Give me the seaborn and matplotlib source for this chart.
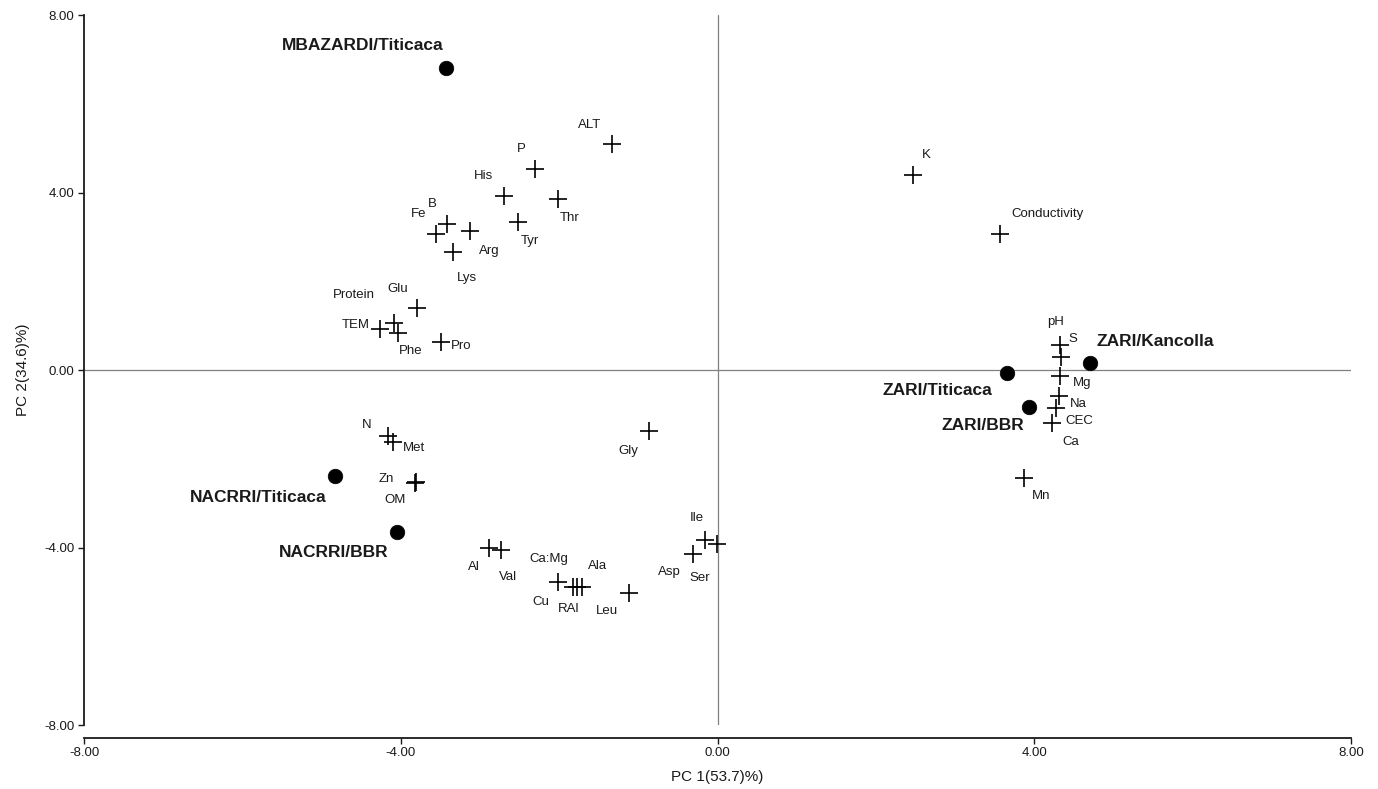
import matplotlib
matplotlib.use("Agg")
import matplotlib.pyplot as plt
import seaborn as sns
import pandas as pd

# ---- data ----
var_names = ["ALT", "P", "His", "Thr", "Tyr", "B", "Fe", "Arg", "Lys", "Glu",
             "Protein", "TEM", "Phe", "Pro", "N", "Met", "Zn", "OM", "Al", "Val",
             "Cu", "Ca:Mg", "RAl", "Ala", "Leu", "Asp", "Ile", "Ser", "Gly", "K",
             "Conductivity", "pH", "S", "Mg", "Na", "CEC", "Ca", "Mn"]
var_pc1 = [-1.33, -2.30, -2.70, -2.01, -2.52, -3.41, -3.55, -3.13, -3.34, -3.79,
           -4.09, -4.26, -4.03, -3.49, -4.16, -4.10, -3.82, -3.81, -2.89, -2.74,
           -2.01, -1.83, -1.77, -1.71, -1.12, -0.31, -0.16, -0.01, -0.87, 2.47,
           3.57, 4.32, 4.34, 4.33, 4.31, 4.28, 4.22, 3.87]
var_pc2 = [5.09, 4.53, 3.92, 3.86, 3.34, 3.28, 3.06, 3.13, 2.66, 1.39,
           1.05, 0.92, 0.83, 0.63, -1.49, -1.62, -2.54, -2.53, -4.02, -4.06,
           -4.77, -4.90, -4.90, -4.90, -5.03, -4.15, -3.82, -3.93, -1.37, 4.39,
           3.06, 0.56, 0.29, -0.14, -0.58, -0.86, -1.19, -2.44]

site_names = ["MBAZARDI/Titicaca", "NACRRI/Titicaca", "NACRRI/BBR",
              "ZARI/Titicaca", "ZARI/Kancolla", "ZARI/BBR"]
site_pc1 = [-3.43, -4.83, -4.05, 3.65, 4.70, 3.93]
site_pc2 = [6.81, -2.39, -3.65, -0.07, 0.16, -0.84]

x_ticks = [-8, -4, 0, 4, 8]
y_ticks = [-8, -4, 0, 4, 8]
x_label = "PC 1(53.7)%)"
y_label = "PC 2(34.6)%)"

# label offsets in pixels (dx right, dy down) -- layout only
var_offsets = [(-23, -19), (-14, -20), (-20, -20), (11, 19), (12, 19), (-15, -20),
               (-18, -20), (20, 20), (14, 26), (-20, -19), (-40, -28), (-24, -4),
               (12, 18), (20, 4), (-21, -11), (21, 6), (-29, -4), (-21, 18),
               (-15, 19), (7, 27), (-18, 20), (-24, -28), (-9, 22), (15, -21),
               (-22, 18), (-24, 18), (-8, -22), (-17, 34), (-20, 20), (13, -20),
               (47, -20), (-4, -23), (12, -18), (22, 7), (20, 8), (23, 13),
               (19, 19), (17, 18)]
site_offsets = [(-83, -22), (-77, 21), (-63, 21), (-69, 17), (66, -21), (-46, 18)]

vars_df = pd.DataFrame({"PC1": var_pc1, "PC2": var_pc2, "name": var_names})
sites_df = pd.DataFrame({"PC1": site_pc1, "PC2": site_pc2, "name": site_names})

sns.set_theme(style="ticks")
plt.rcParams["font.family"] = ["Liberation Sans Narrow", "Liberation Sans", "DejaVu Sans"]

fig = plt.figure(figsize=(13.78, 7.89), dpi=100)
ax = fig.add_axes([84 / 1378, 1 - 725 / 789, (1351 - 84) / 1378, (725 - 15) / 789])

ax.axhline(0, color="#808080", lw=0.9, zorder=1)
ax.axvline(0, color="#808080", lw=0.9, zorder=1)

sns.scatterplot(data=vars_df, x="PC1", y="PC2", marker="+", s=150,
                color="black", linewidth=1.2, ax=ax, zorder=3)
sns.scatterplot(data=sites_df, x="PC1", y="PC2", marker="o", s=110,
                color="black", edgecolor="black", linewidth=0.5, ax=ax, zorder=4)

px = 72 / 100  # pixels -> points
for name, x, y, (dx, dy) in zip(var_names, var_pc1, var_pc2, var_offsets):
    ax.annotate(name, (x, y), xytext=(dx * px, -dy * px), textcoords="offset points",
                ha="center", va="center", fontsize=9.5, color="#1a1a1a")
for name, x, y, (dx, dy) in zip(site_names, site_pc1, site_pc2, site_offsets):
    ax.annotate(name, (x, y), xytext=(dx * px, -dy * px), textcoords="offset points",
                ha="center", va="center", fontsize=12.5, fontweight="bold", color="#1a1a1a")

ax.set_xlim(-8, 8)
ax.set_ylim(-8, 8)
ax.set_xticks(x_ticks)
ax.set_yticks(y_ticks)
ax.set_xticklabels([f"{t:.2f}" for t in x_ticks])
ax.set_yticklabels([f"{t:.2f}" for t in y_ticks])
ax.tick_params(axis="both", direction="out", length=4, width=1, labelsize=9.5,
               colors="#1a1a1a", pad=3)
ax.set_xlabel(x_label, fontsize=11, color="#1a1a1a", labelpad=8)
ax.set_ylabel(y_label, fontsize=11, color="#1a1a1a", labelpad=10)
sns.despine(ax=ax)
ax.spines["bottom"].set_position(("outward", 9))
for sp in ("left", "bottom"):
    ax.spines[sp].set_linewidth(1.3)
    ax.spines[sp].set_color("#1a1a1a")

fig.savefig("out.png", dpi=100)
